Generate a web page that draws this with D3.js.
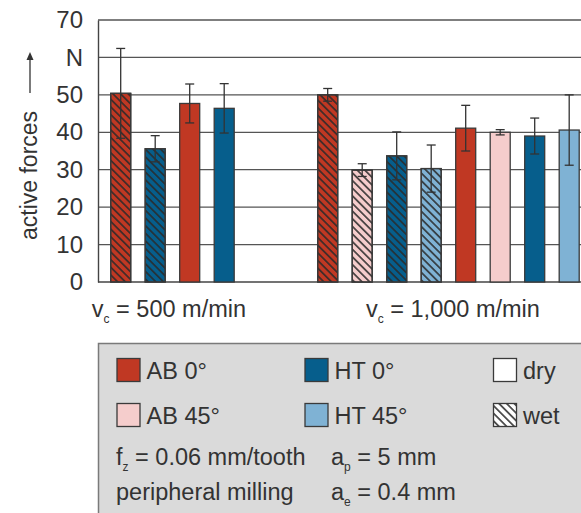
<!DOCTYPE html>
<html>
<head>
<meta charset="utf-8">
<script src="https://cdn.jsdelivr.net/npm/d3@7"></script>
<style>
  html, body { margin: 0; padding: 0; background: #fff; }
  svg { display: block; font-family: "Liberation Sans", Arial, sans-serif; }
</style>
</head>
<body>
<svg id="chart" width="581" height="513"></svg>
<script>
// ---- data ----
const groups = ["500", "1,000"];
const barGroup = [0, 0, 0, 0, 1, 1, 1, 1, 1, 1, 1, 1];
const barMaterial = ["AB 0°", "HT 0°", "AB 0°", "HT 0°", "AB 0°", "AB 45°", "HT 0°", "HT 45°", "AB 0°", "AB 45°", "HT 0°", "HT 45°"];
const barCooling = ["wet", "wet", "dry", "dry", "wet", "wet", "wet", "wet", "dry", "dry", "dry", "dry"];
const barValue = [50.4, 35.6, 47.7, 46.4, 50.0, 29.9, 33.7, 30.3, 41.1, 40.0, 39.0, 40.6];
const barError = [12.0, 3.5, 5.2, 6.6, 1.7, 1.7, 6.4, 6.3, 6.1, 0.7, 4.8, 9.4];
const yTicks = [0, 10, 20, 30, 40, 50, 60, 70];
const yTickLabels = ["0", "10", "20", "30", "40", "50", "N", "70"];
const materials = ["AB 0°", "HT 0°", "AB 45°", "HT 45°"];
const materialColors = ["#c03823", "#065e8c", "#f5cdcc", "#7fb2d4"];
const coolings = ["dry", "wet"];

// ---- layout ----
const svg = d3.select("#chart");
const ink = "#333";
const plotLeft = 98, plotRight = 581, plotTop = 20, plotBottom = 282;
const FS = 23.5;

const y = d3.scaleLinear().domain([0, 70]).range([plotBottom, plotTop]);

// slot domain: bars of group 0, two spacer slots, bars of group 1
const slots = [];
barValue.forEach((v, i) => {
  if (i > 0 && barGroup[i] !== barGroup[i - 1]) { slots.push("gap-a"); slots.push("gap-b"); }
  slots.push("bar-" + i);
});
const x = d3.scaleBand().domain(slots)
  .range([103.45, 103.45 + slots.length * 34.5])
  .paddingInner(0.42).paddingOuter(0.21);

const color = d3.scaleOrdinal().domain(materials).range(materialColors);

// hatch pattern
const defs = svg.append("defs");
defs.append("pattern")
  .attr("id", "hatch")
  .attr("patternUnits", "userSpaceOnUse")
  .attr("width", 5.4).attr("height", 5.4)
  .attr("patternTransform", "rotate(45)")
  .append("line")
  .attr("x1", -1).attr("x2", 7).attr("y1", 2.7).attr("y2", 2.7)
  .attr("stroke", "#2a2a2a").attr("stroke-width", 1.5);

// gridlines
svg.append("g").selectAll("line").data(yTicks.filter(t => t > 0)).join("line")
  .attr("x1", plotLeft).attr("x2", plotRight)
  .attr("y1", d => y(d)).attr("y2", d => y(d))
  .attr("stroke", "#555").attr("stroke-width", 1.3);

// y axis
const yAxis = d3.axisLeft(y).tickValues(yTicks).tickSize(0).tickPadding(15)
  .tickFormat((d, i) => yTickLabels[i]);
const gy = svg.append("g").attr("transform", `translate(${plotLeft},0)`).call(yAxis);
gy.select(".domain").attr("stroke", "#444").attr("stroke-width", 1.4);
gy.selectAll("text").attr("font-size", 24).attr("fill", ink)
  .attr("font-family", "Liberation Sans, Arial, sans-serif");

// x baseline
svg.append("line").attr("x1", plotLeft).attr("x2", plotRight)
  .attr("y1", y(0)).attr("y2", y(0)).attr("stroke", "#444").attr("stroke-width", 1.4);

// y label
const yl = svg.append("g").attr("transform", "translate(36.5,240) rotate(-90)");
yl.append("text").attr("x", 0).attr("y", 0).attr("font-size", 23).attr("fill", ink)
  .text("active forces");
yl.append("line").attr("x1", 147).attr("x2", 183).attr("y1", -6.5).attr("y2", -6.5)
  .attr("stroke", ink).attr("stroke-width", 1.3);
yl.append("path").attr("d", "M188,-6.5 L180,-10 L180,-3 Z").attr("fill", ink);

// bars
const bars = barValue.map((v, i) => ({ i, v, e: barError[i], m: barMaterial[i], c: barCooling[i] }));
const gb = svg.append("g");
gb.selectAll("rect.fill").data(bars).join("rect")
  .attr("x", d => x("bar-" + d.i)).attr("width", x.bandwidth())
  .attr("y", d => y(d.v)).attr("height", d => y(0) - y(d.v))
  .attr("fill", d => color(d.m))
  .attr("stroke", "#3a3a3a").attr("stroke-width", 1.3);
gb.selectAll("rect.hatch").data(bars.filter(d => d.c === "wet")).join("rect")
  .attr("x", d => x("bar-" + d.i)).attr("width", x.bandwidth())
  .attr("y", d => y(d.v)).attr("height", d => y(0) - y(d.v))
  .attr("fill", "url(#hatch)")
  .attr("stroke", "#3a3a3a").attr("stroke-width", 1.3);

// error bars
const ge = svg.append("g").attr("stroke", ink).attr("stroke-width", 1.3);
bars.forEach(d => {
  const cx = x("bar-" + d.i) + x.bandwidth() / 2;
  ge.append("line").attr("x1", cx).attr("x2", cx).attr("y1", y(d.v + d.e)).attr("y2", y(d.v - d.e));
  ge.append("line").attr("x1", cx - 4.5).attr("x2", cx + 4.5).attr("y1", y(d.v + d.e)).attr("y2", y(d.v + d.e));
  ge.append("line").attr("x1", cx - 4.5).attr("x2", cx + 4.5).attr("y1", y(d.v - d.e)).attr("y2", y(d.v - d.e));
});

// group labels
const labelShift = [-3.5, 4.5];
groups.forEach((g, gi) => {
  const idx = bars.filter(d => barGroup[d.i] === gi).map(d => d.i);
  const x0 = x("bar-" + idx[0]), x1 = x("bar-" + idx[idx.length - 1]) + x.bandwidth();
  const t = svg.append("text").attr("x", (x0 + x1) / 2 + labelShift[gi]).attr("y", 316.5)
    .attr("text-anchor", "middle").attr("font-size", FS).attr("fill", ink);
  t.append("tspan").text("v");
  t.append("tspan").attr("font-size", 12).attr("dy", 6).text("c");
  t.append("tspan").attr("dy", -6).text(" = " + g + " m/min");
});

// legend
const lg = svg.append("g");
lg.append("rect").attr("x", 98.5).attr("y", 343.5).attr("width", 500).attr("height", 200)
  .attr("fill", "#dadada").attr("stroke", "#7a7a7a").attr("stroke-width", 1.5);
const legendItems = [
  { label: "AB 0°", fill: color("AB 0°"), col: 117, row: 0 },
  { label: "HT 0°", fill: color("HT 0°"), col: 305, row: 0 },
  { label: coolings[0], fill: "#fff", col: 493.5, row: 0 },
  { label: "AB 45°", fill: color("AB 45°"), col: 117, row: 1 },
  { label: "HT 45°", fill: color("HT 45°"), col: 305, row: 1 },
  { label: coolings[1], fill: "url(#hatch)", bg: "#fff", col: 493.5, row: 1 }
];
legendItems.forEach(it => {
  const yy = 358.5 + it.row * 45;
  if (it.bg) lg.append("rect").attr("x", it.col).attr("y", yy).attr("width", 23).attr("height", 23).attr("fill", it.bg);
  lg.append("rect").attr("x", it.col).attr("y", yy).attr("width", 23).attr("height", 23)
    .attr("fill", it.fill).attr("stroke", "#3a3a3a").attr("stroke-width", 1.3);
  lg.append("text").attr("x", it.col + 29.5).attr("y", yy + 20).attr("font-size", FS).attr("fill", ink).text(it.label);
});
function subText(xp, yp, main, sub, rest) {
  const t = lg.append("text").attr("x", xp).attr("y", yp).attr("font-size", FS).attr("fill", ink);
  t.append("tspan").attr("fill", ink).text(main);
  if (sub) t.append("tspan").attr("fill", ink).attr("font-size", 12).attr("dy", 6).text(sub);
  if (rest) t.append("tspan").attr("fill", ink).attr("dy", sub ? -6 : 0).text(rest);
}
subText(116, 465, "f", "z", " = 0.06 mm/tooth");
subText(331, 465, "a", "p", " = 5 mm");
subText(116, 500, "peripheral milling", null, null);
subText(331, 500, "a", "e", " = 0.4 mm");
</script>
</body>
</html>
